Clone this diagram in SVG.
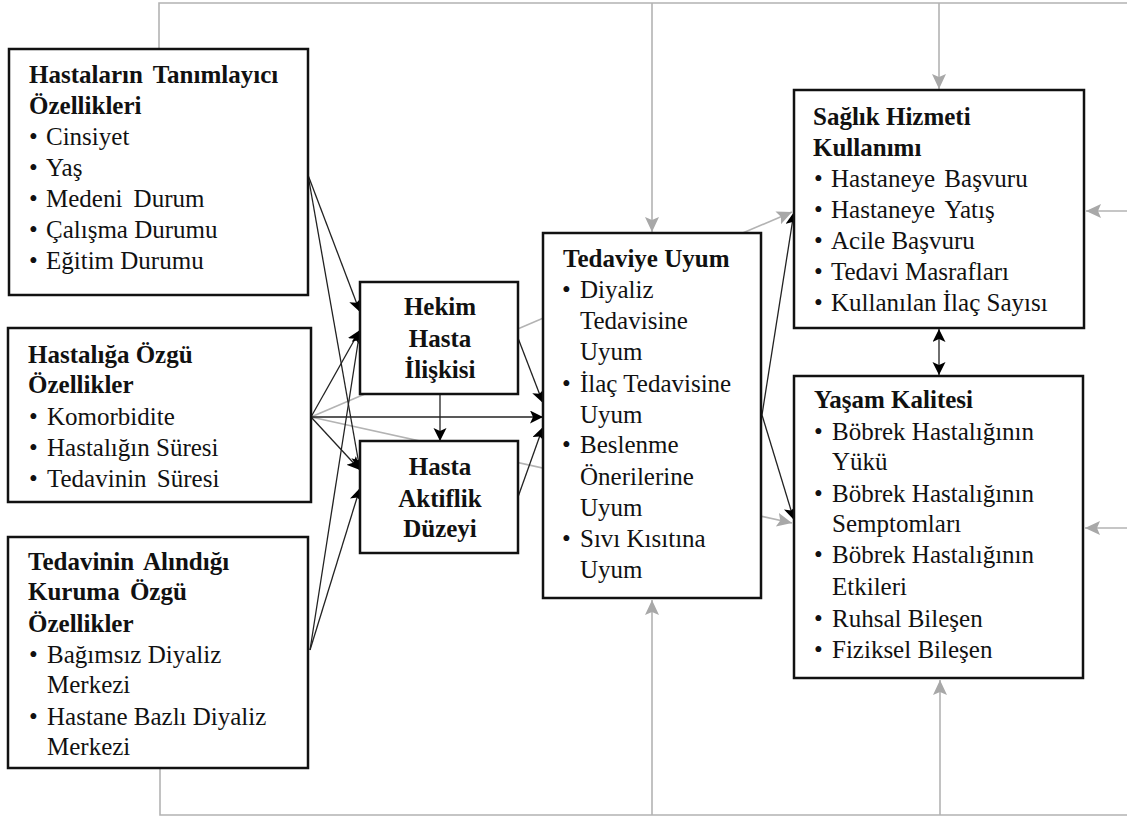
<svg xmlns="http://www.w3.org/2000/svg" width="1127" height="817" viewBox="0 0 1127 817">
<style>
text{font-family:'Liberation Serif','Times New Roman',serif;font-size:25px;fill:#111}
.b{font-weight:bold}
.box{fill:#fff;stroke:#111;stroke-width:2.5}
.g{stroke:#b3b3b3;stroke-width:1.6;fill:none}
.k{stroke:#222;stroke-width:1.3;fill:none}
.c{text-anchor:middle}
</style>
<defs>
<marker id="ak" markerUnits="userSpaceOnUse" markerWidth="14" markerHeight="14" refX="13" refY="6.5" orient="auto"><path d="M0,0 L13,6.5 L0,13 L3,6.5 z" fill="#000"/></marker>
<marker id="ak2" markerUnits="userSpaceOnUse" markerWidth="14" markerHeight="14" refX="13" refY="6.5" orient="auto-start-reverse"><path d="M0,0 L13,6.5 L0,13 L3,6.5 z" fill="#000"/></marker>
<marker id="ag" markerUnits="userSpaceOnUse" markerWidth="16" markerHeight="16" refX="15" refY="7" orient="auto"><path d="M0,0 L15,7 L0,14 L3,7 z" fill="#a8a8a8"/></marker>
</defs>
<rect width="1127" height="817" fill="#fff"/>
<g id="connectors">
<polyline class="g" points="159,49 159,3 1127,3"/>
<line class="g" x1="652" y1="3" x2="652" y2="232" marker-end="url(#ag)"/>
<line class="g" x1="939" y1="3" x2="939" y2="89" marker-end="url(#ag)"/>
<line class="g" x1="1127" y1="211" x2="1086" y2="211" marker-end="url(#ag)"/>
<line class="g" x1="1127" y1="528" x2="1085" y2="528" marker-end="url(#ag)"/>
<polyline class="g" points="160,768 160,815 1127,815"/>
<line class="g" x1="652" y1="815" x2="652" y2="600" marker-end="url(#ag)"/>
<line class="g" x1="940" y1="815" x2="940" y2="680" marker-end="url(#ag)"/>
<line class="g" x1="311" y1="417" x2="792" y2="212" marker-end="url(#ag)"/>
<line class="g" x1="311" y1="417" x2="792" y2="523" marker-end="url(#ag)"/>
<line class="k" x1="308" y1="175" x2="360" y2="312" marker-end="url(#ak)"/>
<line class="k" x1="308" y1="175" x2="360" y2="470" marker-end="url(#ak)"/>
<line class="k" x1="311" y1="417" x2="360" y2="330" marker-end="url(#ak)"/>
<line class="k" x1="311" y1="417" x2="360" y2="470" marker-end="url(#ak)"/>
<line class="k" x1="310" y1="650" x2="360" y2="330" marker-end="url(#ak)"/>
<line class="k" x1="310" y1="650" x2="360" y2="488" marker-end="url(#ak)"/>
<line class="k" x1="311" y1="417" x2="543" y2="417" marker-end="url(#ak)"/>
<line class="k" x1="440" y1="394" x2="440" y2="441" marker-end="url(#ak)"/>
<line class="k" x1="518" y1="338" x2="543" y2="403" marker-end="url(#ak)"/>
<line class="k" x1="518" y1="497" x2="543" y2="427" marker-end="url(#ak)"/>
<line class="k" x1="762" y1="415" x2="794" y2="212" marker-end="url(#ak)"/>
<line class="k" x1="762" y1="415" x2="794" y2="520" marker-end="url(#ak)"/>
<line class="k" x1="939" y1="329" x2="939" y2="375" marker-start="url(#ak2)" marker-end="url(#ak2)"/>
</g>
<g id="n1">
<rect class="box" x="9" y="49" width="299" height="246"/>
<text class="b" x="29" y="83" word-spacing="4">Hastaların Tanımlayıcı</text>
<text class="b" x="29" y="114">Özellikleri</text>
<text y="145"><tspan x="29">•</tspan><tspan x="46">Cinsiyet</tspan></text>
<text y="176"><tspan x="29">•</tspan><tspan x="46">Yaş</tspan></text>
<text y="207" word-spacing="5"><tspan x="29">•</tspan><tspan x="46">Medeni Durum</tspan></text>
<text y="238"><tspan x="29">•</tspan><tspan x="46">Çalışma Durumu</tspan></text>
<text y="269"><tspan x="29">•</tspan><tspan x="46">Eğitim Durumu</tspan></text>
</g>
<g id="n2">
<rect class="box" x="8" y="328" width="303" height="174"/>
<text class="b" x="28" y="363">Hastalığa Özgü</text>
<text class="b" x="28" y="393">Özellikler</text>
<text y="425"><tspan x="29">•</tspan><tspan x="47">Komorbidite</tspan></text>
<text y="456"><tspan x="29">•</tspan><tspan x="47">Hastalığın Süresi</tspan></text>
<text y="487" word-spacing="4"><tspan x="29">•</tspan><tspan x="47">Tedavinin Süresi</tspan></text>
</g>
<g id="n3">
<rect class="box" x="8" y="537" width="300" height="231"/>
<text class="b" x="28" y="570" word-spacing="4">Tedavinin Alındığı</text>
<text class="b" x="28" y="600" word-spacing="4">Kuruma Özgü</text>
<text class="b" x="28" y="632">Özellikler</text>
<text y="663"><tspan x="29">•</tspan><tspan x="47">Bağımsız Diyaliz</tspan></text>
<text x="47" y="693">Merkezi</text>
<text y="725"><tspan x="29">•</tspan><tspan x="47">Hastane Bazlı Diyaliz</tspan></text>
<text x="47" y="755">Merkezi</text>
</g>
<g id="n4">
<rect class="box" x="360" y="282" width="158" height="112"/>
<text class="b c" x="440" y="315">Hekim</text>
<text class="b c" x="440" y="347">Hasta</text>
<text class="b c" x="440" y="378">İlişkisi</text>
</g>
<g id="n5">
<rect class="box" x="360" y="441" width="158" height="112"/>
<text class="b c" x="440" y="475">Hasta</text>
<text class="b c" x="440" y="507">Aktiflik</text>
<text class="b c" x="440" y="537">Düzeyi</text>
</g>
<g id="n6">
<rect class="box" x="543" y="233" width="218" height="365"/>
<text class="b" x="563" y="267">Tedaviye Uyum</text>
<text y="298"><tspan x="562">•</tspan><tspan x="580">Diyaliz</tspan></text>
<text x="580" y="329">Tedavisine</text>
<text x="580" y="360">Uyum</text>
<text y="392"><tspan x="562">•</tspan><tspan x="580">İlaç Tedavisine</tspan></text>
<text x="580" y="423">Uyum</text>
<text y="453"><tspan x="562">•</tspan><tspan x="580">Beslenme</tspan></text>
<text x="580" y="485">Önerilerine</text>
<text x="580" y="516">Uyum</text>
<text y="547"><tspan x="562">•</tspan><tspan x="580">Sıvı Kısıtına</tspan></text>
<text x="580" y="578">Uyum</text>
</g>
<g id="n7">
<rect class="box" x="794" y="90" width="290" height="238"/>
<text class="b" x="813" y="125">Sağlık Hizmeti</text>
<text class="b" x="813" y="156">Kullanımı</text>
<text y="187" word-spacing="3"><tspan x="814">•</tspan><tspan x="831">Hastaneye Başvuru</tspan></text>
<text y="218" word-spacing="4"><tspan x="814">•</tspan><tspan x="831">Hastaneye Yatış</tspan></text>
<text y="249"><tspan x="814">•</tspan><tspan x="831">Acile Başvuru</tspan></text>
<text y="280"><tspan x="814">•</tspan><tspan x="831">Tedavi Masrafları</tspan></text>
<text y="311"><tspan x="814">•</tspan><tspan x="831">Kullanılan İlaç Sayısı</tspan></text>
</g>
<g id="n8">
<rect class="box" x="794" y="376" width="289" height="302"/>
<text class="b" x="814" y="408">Yaşam Kalitesi</text>
<text y="440"><tspan x="814">•</tspan><tspan x="832">Böbrek Hastalığının</tspan></text>
<text x="832" y="470">Yükü</text>
<text y="502"><tspan x="814">•</tspan><tspan x="832">Böbrek Hastalığının</tspan></text>
<text x="832" y="532">Semptomları</text>
<text y="563"><tspan x="814">•</tspan><tspan x="832">Böbrek Hastalığının</tspan></text>
<text x="832" y="595">Etkileri</text>
<text y="627"><tspan x="814">•</tspan><tspan x="832">Ruhsal Bileşen</tspan></text>
<text y="658"><tspan x="814">•</tspan><tspan x="832">Fiziksel Bileşen</tspan></text>
</g>
</svg>
